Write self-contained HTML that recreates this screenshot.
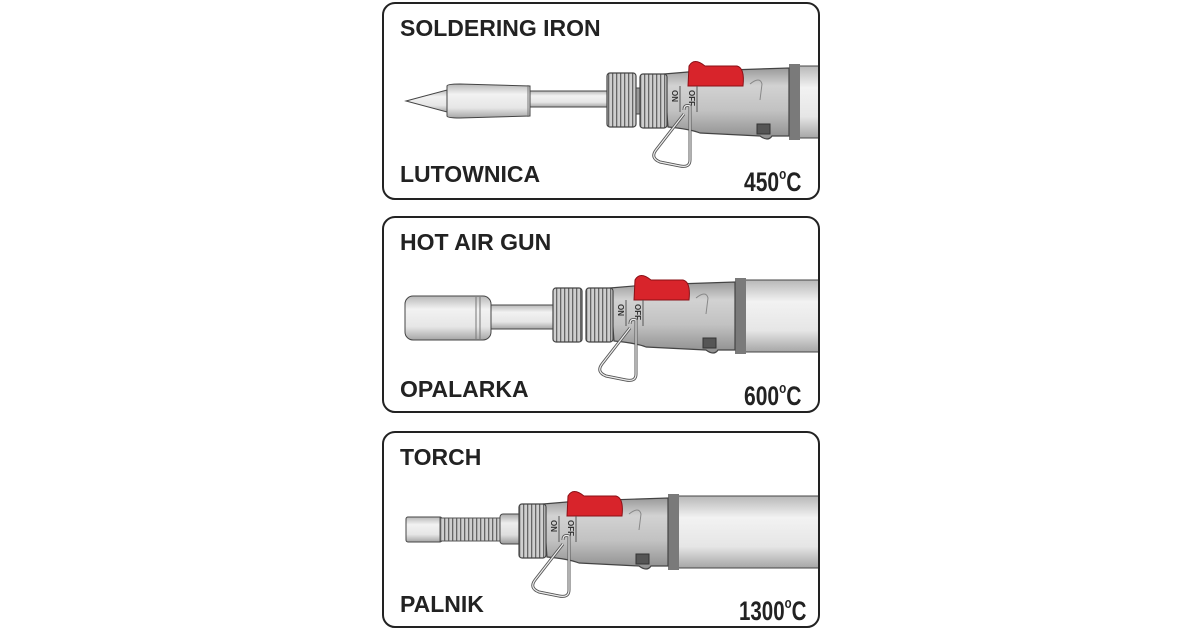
<!DOCTYPE html>
<html><head><meta charset="utf-8"><style>
html,body{margin:0;padding:0;background:#fff;width:1200px;height:630px;overflow:hidden}
svg{display:block}
text{font-family:"Liberation Sans",sans-serif;font-weight:bold;fill:#222}
</style></head><body>
<svg width="1200" height="630" viewBox="0 0 1200 630">
<defs>
<linearGradient id="g1" x1="0" y1="0" x2="0" y2="1">
<stop offset="0" stop-color="#9a9a9a"/><stop offset="0.25" stop-color="#d2d2d2"/><stop offset="0.6" stop-color="#c2c2c2"/><stop offset="1" stop-color="#8e8e8e"/></linearGradient>
<linearGradient id="g2" x1="0" y1="0" x2="0" y2="1">
<stop offset="0" stop-color="#b8b8b8"/><stop offset="0.3" stop-color="#f2f2f2"/><stop offset="0.7" stop-color="#e6e6e6"/><stop offset="1" stop-color="#a6a6a6"/></linearGradient>
<linearGradient id="g3" x1="0" y1="0" x2="0" y2="1">
<stop offset="0" stop-color="#aaa"/><stop offset="0.3" stop-color="#eee"/><stop offset="0.7" stop-color="#ddd"/><stop offset="1" stop-color="#999"/></linearGradient>
<pattern id="rib" width="4" height="10" patternUnits="userSpaceOnUse"><rect width="4" height="10" fill="#cfcfcf"/><rect width="1.3" height="10" fill="#666"/></pattern>
<g id="body">
<rect x="798" y="66" width="220" height="72" fill="url(#g2)" stroke="#444" stroke-width="1"/>
<rect x="789" y="64" width="11" height="76" fill="#7a7a7a"/>
<path d="M664 74 L700 71 L789 68 L789 136 L772 136 Q768 142 760 136 L700 133 Q690 129 668 127 Z" fill="url(#g1)" stroke="#444" stroke-width="1.2"/>
<rect x="640" y="74" width="27" height="54" rx="3" fill="url(#rib)" stroke="#444" stroke-width="1.2"/>
<path d="M688 86 L689 66 Q694 57 705 66 L737 66 Q745 68 743 86 Z" fill="#d8242b" stroke="#8a1016" stroke-width="1"/>
<path d="M750 84 Q760 76 762 84 L760 100" fill="none" stroke="#888" stroke-width="1"/>
<rect x="757" y="124" width="13" height="10" fill="#555" stroke="#333"/>
<text x="0" y="0" transform="translate(672,90) rotate(90)" font-size="8" style="fill:#333">ON</text>
<text x="0" y="0" transform="translate(689,90) rotate(90)" font-size="8" style="fill:#333">OFF</text>
<line x1="680" y1="86" x2="680" y2="112" stroke="#555"/>
<line x1="697" y1="86" x2="697" y2="112" stroke="#555"/>
<path d="M684 110 Q684 104 690 106 L690 160 Q690 168 680 166 L660 162 Q650 158 656 150 L684 114" fill="none" stroke="#555" stroke-width="3"/>
<path d="M684 110 Q684 104 690 106 L690 160 Q690 168 680 166 L660 162 Q650 158 656 150 L684 114" fill="none" stroke="#eee" stroke-width="1.2"/>
</g>
<clipPath id="c1"><rect x="384" y="4" width="434" height="194" rx="11"/></clipPath>
<clipPath id="c2"><rect x="384" y="218" width="434" height="193" rx="11"/></clipPath>
<clipPath id="c3"><rect x="384" y="433" width="434" height="193" rx="11"/></clipPath>
</defs>

<!-- Panel 1 -->
<g clip-path="url(#c1)">
<path d="M406 101 L447 90 L447 112 Z" fill="url(#g2)" stroke="#444"/>
<rect x="530" y="91" width="78" height="16" fill="url(#g2)" stroke="#444"/>
<path d="M447 86 Q447 84 460 84 L530 86 L530 116 L460 118 Q447 118 447 116 Z" fill="url(#g2)" stroke="#444"/>
<line x1="528" y1="85" x2="528" y2="117" stroke="#777"/>
<rect x="607" y="73" width="29" height="54" rx="3" fill="url(#rib)" stroke="#444" stroke-width="1.2"/>
<rect x="636" y="88" width="5" height="26" fill="#999" stroke="#444"/>
<use href="#body"/>
</g>
<rect x="383" y="3" width="436" height="196" rx="12" fill="none" stroke="#222" stroke-width="2"/>
<text x="400" y="36" font-size="23">SOLDERING IRON</text>
<text x="400" y="182" font-size="23">LUTOWNICA</text>
<text x="744" y="191" font-size="27" transform="translate(744,191) scale(0.78,1) translate(-744,-191)">450<tspan font-size="15" dy="-12">o</tspan><tspan dy="12">C</tspan></text>

<!-- Panel 2 -->
<g clip-path="url(#c2)">
<rect x="488" y="305" width="70" height="24" fill="url(#g2)" stroke="#444"/>
<rect x="405" y="296" width="86" height="44" rx="8" fill="url(#g2)" stroke="#444"/>
<line x1="476" y1="297" x2="476" y2="339" stroke="#777"/>
<line x1="480" y1="297" x2="480" y2="339" stroke="#777"/>
<rect x="553" y="288" width="29" height="54" rx="3" fill="url(#rib)" stroke="#444" stroke-width="1.2"/>
<use href="#body" transform="translate(-54,214)"/>
</g>
<rect x="383" y="217" width="436" height="195" rx="12" fill="none" stroke="#222" stroke-width="2"/>
<text x="400" y="250" font-size="23">HOT AIR GUN</text>
<text x="400" y="397" font-size="23">OPALARKA</text>
<text x="744" y="405" font-size="27" transform="translate(744,405) scale(0.78,1) translate(-744,-405)">600<tspan font-size="15" dy="-12">o</tspan><tspan dy="12">C</tspan></text>

<!-- Panel 3 -->
<g clip-path="url(#c3)">
<rect x="406" y="517" width="36" height="25" rx="2" fill="url(#g2)" stroke="#444"/>
<rect x="440" y="518" width="62" height="23" fill="url(#rib)" stroke="#555"/>
<rect x="500" y="514" width="22" height="30" rx="3" fill="url(#g3)" stroke="#444"/>
<use href="#body" transform="translate(-121,430)"/>
</g>
<rect x="383" y="432" width="436" height="195" rx="12" fill="none" stroke="#222" stroke-width="2"/>
<text x="400" y="465" font-size="23">TORCH</text>
<text x="400" y="612" font-size="23">PALNIK</text>
<text x="739" y="620" font-size="27" transform="translate(739,620) scale(0.76,1) translate(-739,-620)">1300<tspan font-size="15" dy="-12">o</tspan><tspan dy="12">C</tspan></text>
</svg>
</body></html>
